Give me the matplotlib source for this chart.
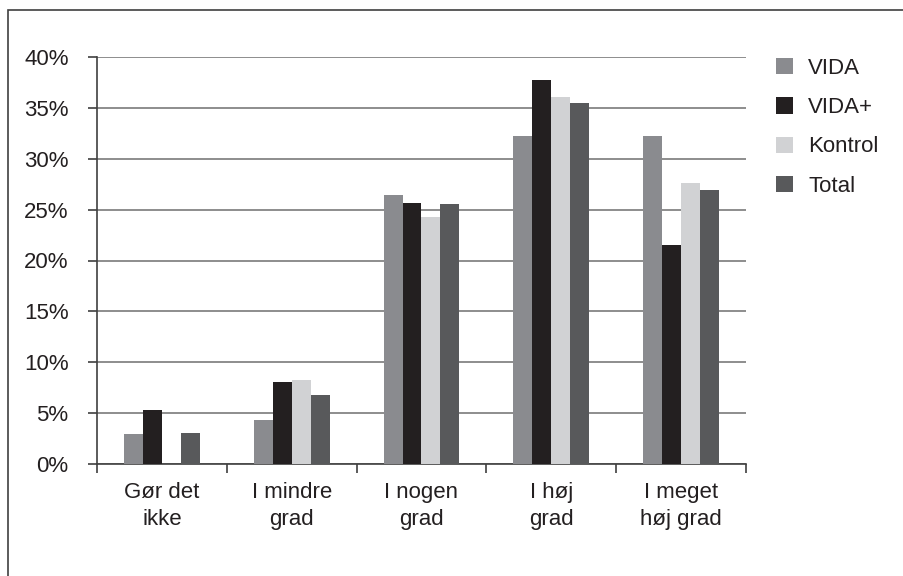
import numpy as np
import matplotlib.pyplot as plt
from matplotlib.patches import Rectangle

categories = ['Gør det\nikke', 'I mindre\ngrad', 'I nogen\ngrad', 'I høj\ngrad', 'I meget\nhøj grad']
series = ['VIDA', 'VIDA+', 'Kontrol', 'Total']
vida = [2.9, 4.3, 26.4, 32.2, 32.2]
vida_plus = [5.3, 8.1, 25.7, 37.7, 21.5]
kontrol = [0.0, 8.3, 24.3, 36.1, 27.6]
total = [3.0, 6.8, 25.6, 35.5, 26.9]
colors = ['#8a8b8f', '#231f20', '#d1d2d4', '#58595b']

plt.rcParams['font.family'] = ['Liberation Sans', 'DejaVu Sans']
fs = 16

fig = plt.figure(figsize=(9.04, 5.76), dpi=100)
ax = fig.add_axes([97 / 904, 1 - 464 / 576, (746 - 97) / 904, (464 - 57) / 576])

# border round the chart area
fig.patches.append(Rectangle((8 / 904, -0.1), 1.2, 1 - 10 / 576 + 0.1,
                             transform=fig.transFigure, fill=False,
                             edgecolor='#404040', linewidth=1.2))

index = np.arange(len(categories))
bar_width = 0.146
for i, (vals, name) in enumerate(zip([vida, vida_plus, kontrol, total], series)):
    ax.bar(index + (i - 1.5) * bar_width, vals, bar_width,
           color=colors[i], label=name, zorder=3)

ax.set_xlim(-0.5, len(categories) - 0.5)
ax.set_ylim(0, 40)
ax.set_yticks(np.arange(0, 41, 5))
ax.set_yticklabels(['%d%%' % v for v in range(0, 41, 5)], fontsize=fs, color='#231f20')
ax.yaxis.grid(True, color='#7a7a7a', linewidth=1.2)
ax.set_axisbelow(True)

ax.set_xticks(index)
ax.set_xticklabels(categories, fontsize=fs, color='#231f20', linespacing=1.38)
ax.set_xticks(np.arange(-0.5, len(categories), 1), minor=True)
ax.tick_params(axis='x', which='major', length=0, pad=13)
ax.tick_params(axis='x', which='minor', length=6.5, width=1.2, color='#404040', direction='out')
ax.tick_params(axis='y', length=6.5, width=1.2, color='#404040', pad=14)

for s in ['top', 'right']:
    ax.spines[s].set_visible(False)
for s in ['left', 'bottom']:
    ax.spines[s].set_color('#404040')
    ax.spines[s].set_linewidth(1.2)

leg = ax.legend(loc='upper left', bbox_to_anchor=(756 / 904, 1 - 38 / 576),
                bbox_transform=fig.transFigure, frameon=False, fontsize=fs,
                handlelength=0.75, handleheight=0.75, handletextpad=0.7,
                labelspacing=0.82)
for t in leg.get_texts():
    t.set_color('#231f20')

fig.savefig('out.png', dpi=100)
